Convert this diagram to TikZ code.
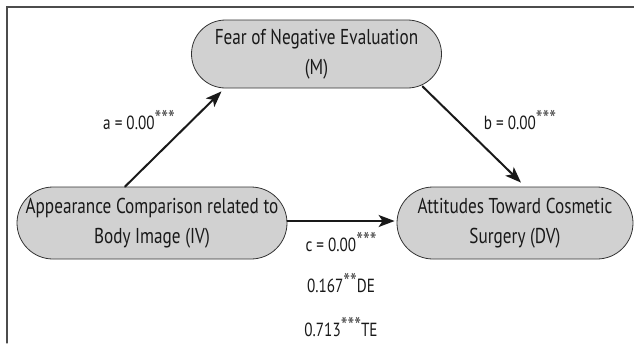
\documentclass[tikz,border=0pt]{standalone}
\usepackage{fontspec}
\setmainfont[FakeStretch=0.8]{PT Sans}
\usetikzlibrary{arrows.meta}

% raised significance stars
\newcommand{\sigstars}[1]{\raisebox{0.25ex}{\fontsize{24}{24}\selectfont\color{black!70}#1}}

\begin{document}
\begin{tikzpicture}[
  x=1pt,
  y=-1pt,
  line cap=round,
  varbox/.style={rectangle, draw=black!80, line width=0.8pt, fill=black!18,
    align=center, text=black!90, inner sep=0pt,
    font=\fontsize{21.5}{30}\selectfont},
  arrowline/.style={-{Stealth[length=16pt, width=12pt, inset=4pt]}, line width=2pt, black!90},
  coef/.style={font=\fontsize{19}{22}\selectfont, text=black!90, inner sep=1pt},
]

% picture size of the reference
\useasboundingbox (0,0) rectangle (634,343);

% frame (only top and left edges are visible)
\draw[black!70, line width=1.2pt] (7,343) -- (7,7) -- (634,7);

% variables
\node[varbox, rounded corners=34pt, minimum width=250pt, minimum height=68pt] (M) at (316.5,54)
  {Fear of Negative Evaluation\\(M)};
\node[varbox, rounded corners=36pt, minimum width=270pt, minimum height=72pt] (IV) at (152,223)
  {Appearance Comparison related to\\Body Image (IV)};
\node[varbox, rounded corners=36pt, minimum width=236pt, minimum height=72pt] (DV) at (515,223)
  {Attitudes Toward Cosmetic\\Surgery (DV)};

% paths a, b, c
\draw[arrowline] ([xshift=-27pt]IV.north) -- ([xshift=-95pt, yshift=-3pt]M.south);
\draw[arrowline] ([xshift=106pt, yshift=2pt]M.south) -- ([xshift=6pt, yshift=4pt]DV.north);
\draw[arrowline] ([yshift=2pt]IV.east) -- ([xshift=-2pt, yshift=2pt]DV.west);

% coefficients
\node[coef] (alab) at (139,120) {a = 0.00\sigstars{***}};
\node[coef] (blab) at (520,120) {b = 0.00\sigstars{***}};
\node[coef] (clab) at (341,242) {c = 0.00\sigstars{***}};

% direct and total effect
\node[coef] (de) at (341,283) {0.167\sigstars{**}DE};
\node[coef] (te) at (341,327) {0.713\sigstars{***}TE};

\end{tikzpicture}
\end{document}
